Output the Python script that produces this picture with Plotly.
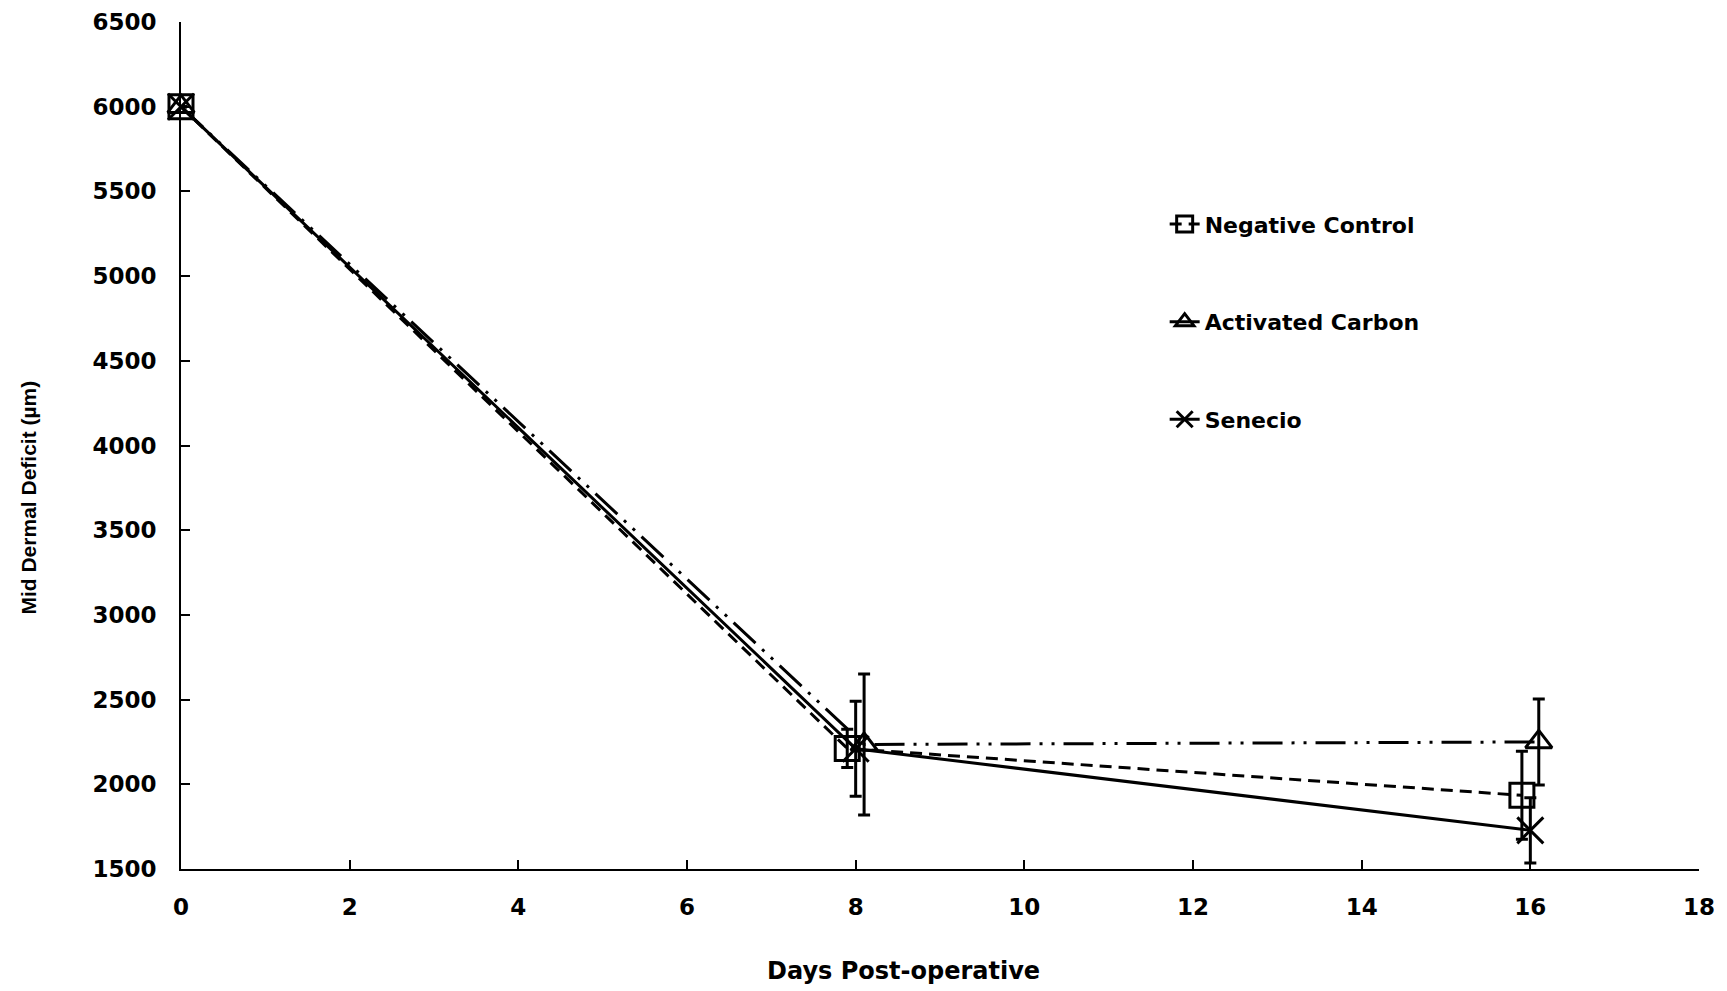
import plotly.graph_objects as go

# Data
days_nc = [0, 7.9, 15.9]
days_ac = [0, 8.1, 16.1]
days_sen = [0, 8.0, 16.0]

nc_vals = [6000, 2212, 1935]
nc_err = [0, 113, 260]
ac_vals = [6000, 2235, 2250]
ac_err = [0, 416, 254]
sen_vals = [6000, 2210, 1728]
sen_err = [0, 280, 192]

x_ticks = [0, 2, 4, 6, 8, 10, 12, 14, 16, 18]
y_ticks = [1500, 2000, 2500, 3000, 3500, 4000, 4500, 5000, 5500, 6000, 6500]

x_title = "Days Post-operative"
y_title = "Mid Dermal Deficit (µm)"

WIDE = "DejaVu Sans, Verdana, sans-serif"
NARROW = "Liberation Sans, Arial, sans-serif"
fig = go.Figure()

def add(name, xs, ys, err, dash, symbol, size, group):
    fig.add_trace(go.Scatter(
        x=xs, y=ys, name=name, mode="lines+markers", legendgroup=group,
        cliponaxis=False,
        line=dict(color="black", width=3, dash=dash),
        marker=dict(symbol=symbol, size=size, color="black",
                    line=dict(color="black", width=3)),
        error_y=dict(type="data", array=err, visible=True, color="black",
                     thickness=3, width=6),
    ))

add("Negative Control", days_nc, nc_vals, nc_err, "12px,7px", "square-open", 24, "a")
add("Activated Carbon", days_ac, ac_vals, ac_err, "30px,9px,3px,9px,3px,9px", "triangle-up-open", 23, "b")
add("Senecio", days_sen, sen_vals, sen_err, "solid", "x-thin-open", 26, "c")

fig.update_layout(
    width=1727, height=991,
    margin=dict(l=181, r=28, t=22, b=122),
    plot_bgcolor="white", paper_bgcolor="white",
    font=dict(family=WIDE, color="black"),
    showlegend=True,
    legend=dict(x=0.648, y=0.786, xanchor="left", yanchor="top",
                font=dict(family=WIDE, size=22, weight="bold", color="black"),
                bgcolor="rgba(0,0,0,0)", tracegroupgap=66, traceorder="grouped"),
    xaxis=dict(
        range=[0, 18], tickvals=x_ticks, ticktext=[str(v) for v in x_ticks],
        showline=True, linecolor="black", linewidth=2, mirror=False,
        ticks="inside", ticklen=9, tickwidth=2, tickcolor="black",
        showgrid=False, zeroline=False, automargin=False,
        tickfont=dict(family=WIDE, size=23, weight="bold"),
        ticklabelstandoff=16,
    ),
    yaxis=dict(
        range=[1500, 6500], tickvals=y_ticks, ticktext=[str(v) for v in y_ticks],
        showline=True, linecolor="black", linewidth=2,
        ticks="inside", ticklen=9, tickwidth=2, tickcolor="black",
        showgrid=False, zeroline=False, automargin=False,
        tickfont=dict(family=WIDE, size=23, weight="bold"),
        ticklabelstandoff=18,
    ),
    annotations=[
        dict(text=x_title, xref="paper", yref="paper", x=0.4757, y=-0.1204,
             xanchor="center", yanchor="middle", showarrow=False,
             font=dict(family=WIDE, size=24, weight="bold", color="black")),
        dict(text=y_title, xref="paper", yref="paper", x=-0.1011, y=0.438,
             xanchor="center", yanchor="middle", showarrow=False, textangle=-90,
             font=dict(family=NARROW, size=21, weight="bold", color="black")),
    ],
)

fig.write_html("out.html")
